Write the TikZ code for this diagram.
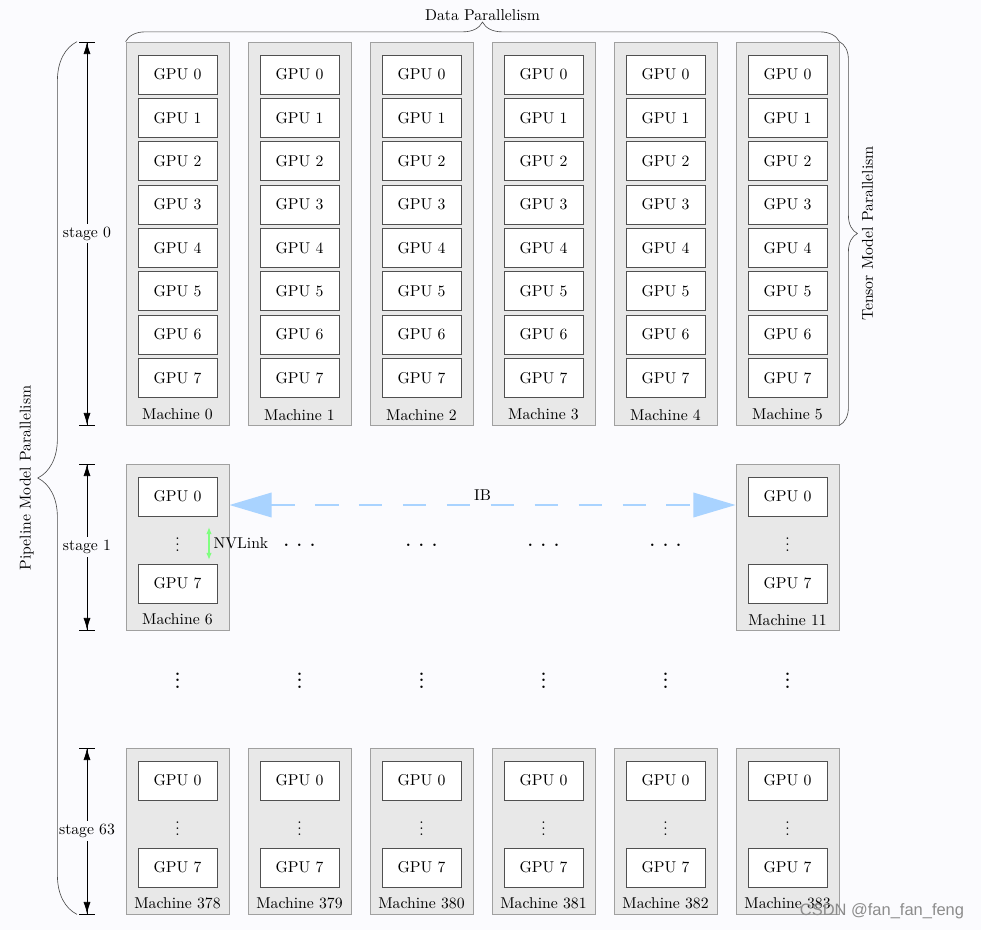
\documentclass[tikz,border=0pt]{standalone}
\usepackage{tikz}
\usepackage{xcolor}
\usepackage{fontspec}
\setsansfont{Liberation Sans}
\usetikzlibrary{positioning}
\usetikzlibrary{arrows.meta}
\usetikzlibrary{calc}
\usetikzlibrary{decorations.pathreplacing}
\definecolor{paper}{HTML}{FBFBFE}
\definecolor{rack}{HTML}{E8E8E8}
\definecolor{rackline}{HTML}{A0A0A0}
\definecolor{gpuline}{HTML}{505050}
\definecolor{ibblue}{HTML}{A9D3FF}
\definecolor{nvgreen}{HTML}{80FF80}
\definecolor{wmark}{HTML}{8C8C8C}
\tikzset{
  % A machine: grey box, its name at the bottom
  machine/.style={
    draw=rackline, fill=rack, rectangle, inner sep=0pt,
    minimum width=2.31cm, minimum height=#1},
  mname/.style={anchor=south, inner sep=3pt},
  % One GPU inside a machine
  gpu/.style={
    draw=gpuline, fill=white, rectangle, inner sep=0pt,
    minimum width=1.77cm, minimum height=0.874cm},
  % Extent of a pipeline stage
  stagespan/.style={
    {Bar[width=10pt]Latex[length=7.5pt,width=4.5pt]}-{Latex[length=7.5pt,width=4.5pt]Bar[width=10pt]},
    draw=black},
  stagelbl/.style={fill=paper, inner sep=2pt},
  % Curly braces round the grid
  curly/.style={decorate, decoration={brace, amplitude=#1}, draw=black!70},
  % Links
  iblink/.style={
    {Triangle[length=27pt,width=15.5pt]}-{Triangle[length=27pt,width=15.5pt]},
    draw=ibblue, line width=1.8pt, dash pattern=on 15pt off 13pt},
  nvlink/.style={
    {Latex[length=4.5pt,width=3.5pt]}-{Latex[length=4.5pt,width=3.5pt]},
    draw=nvgreen, line width=0.8pt},
  more/.style={font=\bfseries, inner sep=0pt},
}

\begin{document}
\begin{tikzpicture}[x=0.0224cm, y=-0.0224cm]

  \path[fill=paper] (0,0) rectangle (981,930);

  % stage 0: every GPU shown
  \foreach \i in {0,...,5} {
    \node[machine=8.58cm] (m\i) at ({177.5+122*\i},233.5) {};
    \node[mname] (m\i-name) at (m\i.south) {Machine \i};
    \node[gpu, below=2.9mm of m\i.north] (m\i-0) {GPU 0};
    \foreach \k [remember=\k as \p (initially 0)] in {1,...,7}
      \node[gpu, below=0.83mm of m\i-\p] (m\i-\k) {GPU \k};
  }

  % stage 1 and stage 63: first and last GPU only
  \node[machine=3.72cm] (m6)  at (177.5,547) {};
  \node[machine=3.72cm] (m11) at (787.5,547) {};
  \foreach \m [count=\c from 0] in {378,...,383}
    \node[machine=3.72cm] (m\m) at ({177.5+122*\c},831) {};

  \foreach \m in {6,11,378,379,380,381,382,383} {
    \node[mname] (m\m-name) at (m\m.south) {Machine \m};
    \node[gpu, below=2.9mm of m\m.north] (m\m-0) {GPU 0};
    \node[gpu, below=1.06cm of m\m-0]    (m\m-7) {GPU 7};
    \node[inner sep=0pt] (m\m-dots) at ($(m\m-0.south)!0.5!(m\m-7.north)$) {\vdots};
  }

  \foreach \c in {1,...,4}
    \node[more] (h\c) at ({177.5+122*\c},545) {. . .};
  \foreach \c in {0,...,5}
    \node[more] (v\c) at ({177.5+122*\c},676) {\vdots};

  % links inside and between machines
  \coordinate (ibrow) at (0,505);
  \draw[iblink] (m6.east |- ibrow) -- node[above=1pt, inner sep=1pt] (ib) {IB} (m11.west |- ibrow);
  \coordinate (nvtop) at (209,527);
  \coordinate (nvbot) at (209,560);
  \draw[nvlink] (nvtop) -- node[right, inner sep=2.5pt] (nv) {NVLink} (nvbot);

  % stages
  \coordinate (st) at (87,0);
  \draw[stagespan] (st |- m0.north)   -- node[stagelbl] (s0)  {stage 0}  (st |- m0.south);
  \draw[stagespan] (st |- m6.north)   -- node[stagelbl] (s1)  {stage 1}  (st |- m6.south);
  \draw[stagespan] (st |- m378.north) -- node[stagelbl] (s63) {stage 63} (st |- m378.south);

  % parallelism braces
  \coordinate (pl) at (77,0);
  \draw[curly=25pt] (pl |- m378.south) -- node[xshift=-32pt, rotate=90] (pp) {Pipeline Model Parallelism} (pl |- m0.north);
  \draw[curly=12.5pt] (m0.north west) -- node[yshift=17pt] (dp) {Data Parallelism} (m5.north east);
  \draw[curly=11.5pt] (m5.north east) -- node[xshift=18pt, rotate=90] (tp) {Tensor Model Parallelism} (m5.south east);

  \node[font=\sffamily\fontsize{10.5}{12}\selectfont, text=wmark] (wm) at (882,911) {CSDN @fan\_fan\_feng};

\end{tikzpicture}
\end{document}
